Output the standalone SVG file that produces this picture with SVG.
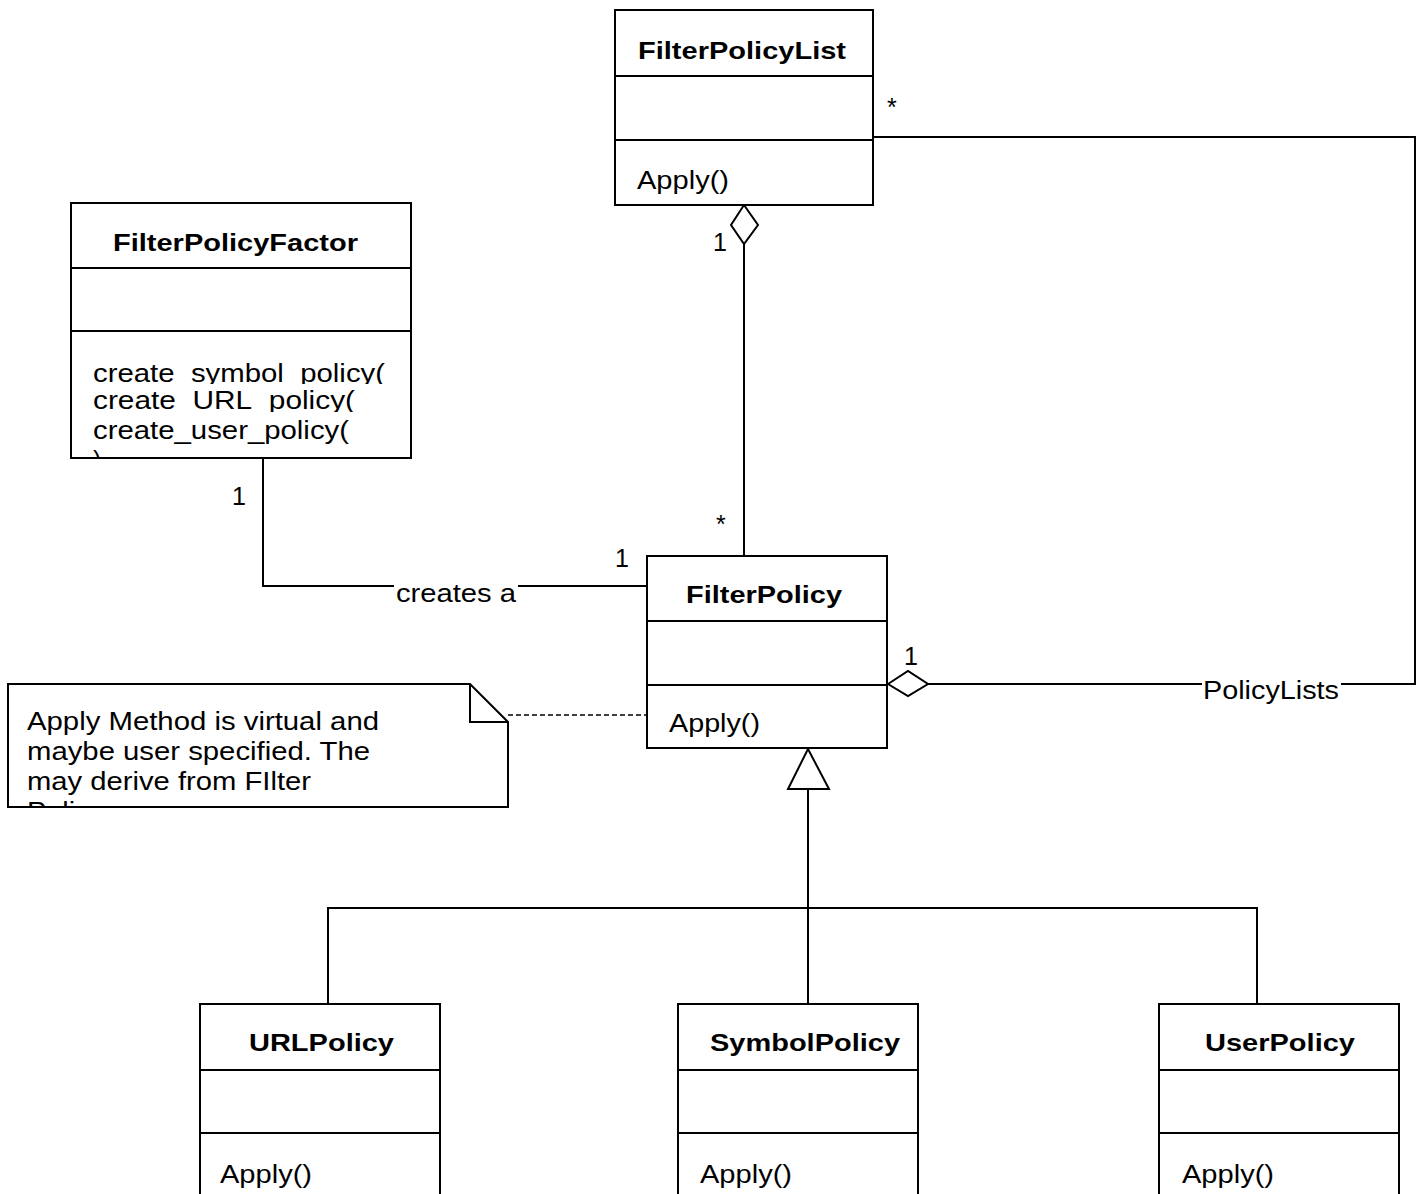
<svg xmlns="http://www.w3.org/2000/svg" width="1423" height="1194" viewBox="0 0 1423 1194">
<style>
.box{fill:#fff;stroke:#000;stroke-width:2}
.ln{fill:none;stroke:#000;stroke-width:2}
.dash{fill:none;stroke:#000;stroke-width:1.3;stroke-dasharray:5 3}
.t{font-family:"Liberation Sans",Arial,sans-serif;font-size:25px;fill:#000}
.b{font-weight:bold;font-size:24px}
</style>
<defs>
<clipPath id="cf1"><rect x="72" y="332" width="338" height="52"/></clipPath>
<clipPath id="cf2"><rect x="72" y="384" width="338" height="28"/></clipPath>
<clipPath id="cf3"><rect x="72" y="412" width="338" height="45"/></clipPath>
<clipPath id="cn1"><rect x="9" y="685" width="498" height="50"/></clipPath>
<clipPath id="cn2"><rect x="9" y="735" width="498" height="30"/></clipPath>
<clipPath id="cn3"><rect x="9" y="765" width="498" height="30"/></clipPath>
<clipPath id="cn4"><rect x="9" y="795" width="498" height="11"/></clipPath>
</defs>
<rect width="1423" height="1194" fill="#fff"/>

<g id="connectors">
  <!-- FilterPolicyList aggregation to FilterPolicy -->
  <polygon class="box" points="744,205 758,225 744,244 731,225"/>
  <line class="ln" x1="744" y1="244" x2="744" y2="556"/>
  <text class="t" x="713" y="251">1</text>
  <text class="t" x="716" y="533">*</text>
  <!-- PolicyLists association -->
  <polyline class="ln" points="873,137 1415,137 1415,684 1341,684"/>
  <line class="ln" x1="928" y1="684" x2="1202" y2="684"/>
  <polygon class="box" points="888,684 908,671 928,684 908,696"/>
  <text class="t" x="1203" y="699" textLength="136" lengthAdjust="spacingAndGlyphs">PolicyLists</text>
  <text class="t" x="887" y="116">*</text>
  <text class="t" x="904" y="665">1</text>
  <!-- creates a -->
  <polyline class="ln" points="263,458 263,586 394,586"/>
  <line class="ln" x1="518" y1="586" x2="647" y2="586"/>
  <text class="t" x="396" y="602" textLength="120" lengthAdjust="spacingAndGlyphs">creates a</text>
  <text class="t" x="232" y="505">1</text>
  <text class="t" x="615" y="567">1</text>
  <!-- note link -->
  <line class="dash" x1="508" y1="715" x2="647" y2="715"/>
  <!-- generalization -->
  <polygon class="box" points="808,749 829,789 788,789"/>
  <line class="ln" x1="808" y1="789" x2="808" y2="1004"/>
  <polyline class="ln" points="328,1004 328,908 1257,908 1257,1004"/>
</g>

<g id="FilterPolicyList">
  <rect class="box" x="615" y="10" width="258" height="195"/>
  <line class="ln" x1="615" y1="76" x2="873" y2="76"/>
  <line class="ln" x1="615" y1="140" x2="873" y2="140"/>
  <text class="t b" x="638" y="59" textLength="208" lengthAdjust="spacingAndGlyphs">FilterPolicyList</text>
  <text class="t" x="637" y="189" textLength="92" lengthAdjust="spacingAndGlyphs">Apply()</text>
</g>

<g id="FilterPolicyFactor">
  <rect class="box" x="71" y="203" width="340" height="255"/>
  <line class="ln" x1="71" y1="268" x2="411" y2="268"/>
  <line class="ln" x1="71" y1="331" x2="411" y2="331"/>
  <text class="t b" x="113" y="251" textLength="245" lengthAdjust="spacingAndGlyphs">FilterPolicyFactor</text>
  <text class="t" x="93" y="382" textLength="292" lengthAdjust="spacingAndGlyphs" clip-path="url(#cf1)">create_symbol_policy(</text>
  <text class="t" x="93" y="409" textLength="262" lengthAdjust="spacingAndGlyphs" clip-path="url(#cf2)">create_URL_policy(</text>
  <text class="t" x="93" y="439" textLength="256" lengthAdjust="spacingAndGlyphs" clip-path="url(#cf3)">create_user_policy(</text>
  <text class="t" x="93" y="469" clip-path="url(#cf3)">)</text>
</g>

<g id="FilterPolicy">
  <rect class="box" x="647" y="556" width="240" height="192"/>
  <line class="ln" x1="647" y1="621" x2="887" y2="621"/>
  <line class="ln" x1="647" y1="685" x2="887" y2="685"/>
  <text class="t b" x="686" y="603" textLength="156" lengthAdjust="spacingAndGlyphs">FilterPolicy</text>
  <text class="t" x="669" y="732" textLength="91" lengthAdjust="spacingAndGlyphs">Apply()</text>
</g>

<g id="note">
  <path class="box" d="M8,684 L470,684 L508,722 L508,807 L8,807 Z"/>
  <path class="ln" d="M470,684 L470,722 L508,722"/>
  <text class="t" x="27" y="730" textLength="352" lengthAdjust="spacingAndGlyphs" clip-path="url(#cn1)">Apply Method is virtual and</text>
  <text class="t" x="27" y="760" textLength="343" lengthAdjust="spacingAndGlyphs" clip-path="url(#cn2)">maybe user specified. The</text>
  <text class="t" x="27" y="790" textLength="284" lengthAdjust="spacingAndGlyphs" clip-path="url(#cn3)">may derive from FIlter</text>
  <text class="t" x="27" y="820" textLength="77" lengthAdjust="spacingAndGlyphs" clip-path="url(#cn4)">Policy</text>
</g>

<g id="URLPolicy">
  <rect class="box" x="200" y="1004" width="240" height="200"/>
  <line class="ln" x1="200" y1="1070" x2="440" y2="1070"/>
  <line class="ln" x1="200" y1="1133" x2="440" y2="1133"/>
  <text class="t b" x="249" y="1051" textLength="145" lengthAdjust="spacingAndGlyphs">URLPolicy</text>
  <text class="t" x="220" y="1183" textLength="92" lengthAdjust="spacingAndGlyphs">Apply()</text>
</g>

<g id="SymbolPolicy">
  <rect class="box" x="678" y="1004" width="240" height="200"/>
  <line class="ln" x1="678" y1="1070" x2="918" y2="1070"/>
  <line class="ln" x1="678" y1="1133" x2="918" y2="1133"/>
  <text class="t b" x="710" y="1051" textLength="190" lengthAdjust="spacingAndGlyphs">SymbolPolicy</text>
  <text class="t" x="700" y="1183" textLength="92" lengthAdjust="spacingAndGlyphs">Apply()</text>
</g>

<g id="UserPolicy">
  <rect class="box" x="1159" y="1004" width="240" height="200"/>
  <line class="ln" x1="1159" y1="1070" x2="1399" y2="1070"/>
  <line class="ln" x1="1159" y1="1133" x2="1399" y2="1133"/>
  <text class="t b" x="1205" y="1051" textLength="150" lengthAdjust="spacingAndGlyphs">UserPolicy</text>
  <text class="t" x="1182" y="1183" textLength="92" lengthAdjust="spacingAndGlyphs">Apply()</text>
</g>
</svg>
